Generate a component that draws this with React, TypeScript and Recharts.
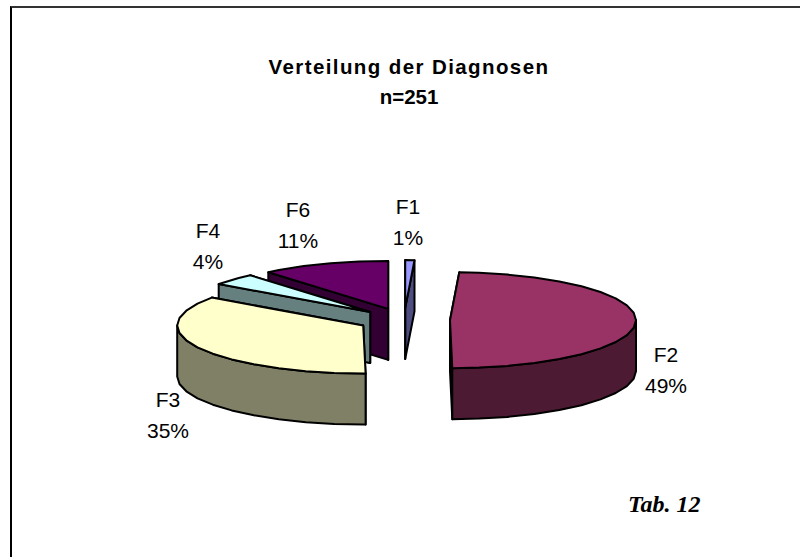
import React from 'react';
import { PieChart, Pie } from 'recharts';

const names = ['F6', 'F4', 'F3', 'F2', 'F1'];
// patient counts out of n=251, listed back to front so the slices overlap correctly
const counts = [28, 10, 88, 123, 2];
const topColors = ['#660066', '#CCFFFF', '#FFFFCC', '#993366', '#9999FF'];
const sideColors = ['#330033', '#668080', '#808066', '#4D1A33', '#4D4D80'];

const chartData = names.map((name, i) => ({ name, value: counts[i] }));

const CX = 404;
const CY = 320;
const RX = 186;
const SQUASH = 48 / 186;
const DEPTH = 51;
const EXPLODE = 46;
const ARC_STEP = 9; // the original outline is a coarse polygon

// baseline of the name line in each label
const labelPos: Record<string, [number, number]> = {
  F1: [408, 214],
  F2: [666, 362],
  F3: [168, 407],
  F4: [208, 238],
  F6: [298, 217],
};

const rad = (deg: number) => (deg * Math.PI) / 180;
const toPath = (pts: number[][]) =>
  'M' + pts.map((p) => `${p[0].toFixed(1)},${p[1].toFixed(1)}`).join('L') + 'Z';

const arcAngles = (lo: number, hi: number) => {
  const out = [lo];
  let a = (Math.floor(lo / ARC_STEP) + 1) * ARC_STEP;
  while (a < hi) {
    out.push(a);
    a += ARC_STEP;
  }
  out.push(hi);
  return out;
};

// draws one pie sector as a tilted, extruded wedge from the angles recharts computed
const Slice3D = (props: any) => {
  const { cx, cy, outerRadius, startAngle, endAngle, midAngle, index } = props;
  const ox = cx + EXPLODE * Math.cos(rad(midAngle));
  const oy = cy - EXPLODE * SQUASH * Math.sin(rad(midAngle));
  const point = (a: number, drop = 0) => [
    ox + outerRadius * Math.cos(rad(a)),
    oy - outerRadius * SQUASH * Math.sin(rad(a)) + drop,
  ];

  const center = [ox, oy];
  const centerLow = [ox, oy + DEPTH];
  const topFace = [center, ...arcAngles(startAngle, endAngle).map((a) => point(a))];
  const faceA = [center, point(startAngle), point(startAngle, DEPTH), centerLow];
  const faceB = [center, point(endAngle), point(endAngle, DEPTH), centerLow];
  const side = sideColors[index];

  // only the part of the rim on the viewer's side gets a wall
  const lo = Math.max(startAngle, 180);
  const hi = Math.min(endAngle, 360);
  const rim = lo < hi ? arcAngles(lo, hi) : [];
  const outer = [
    ...rim.map((a) => point(a)),
    ...rim.slice().reverse().map((a) => point(a, DEPTH)),
  ];

  return (
    <g stroke="#000" strokeWidth={2} strokeLinejoin="round">
      <path d={toPath(faceA)} fill={side} />
      <path d={toPath(faceB)} fill={side} />
      {rim.length > 0 && <path d={toPath(outer)} fill={side} />}
      <path d={toPath(topFace)} fill={topColors[index]} />
    </g>
  );
};

const renderLabel = (props: any) => {
  const { name, percent } = props;
  const [x, y] = labelPos[name];
  return (
    <text x={x} y={y} textAnchor="middle" fontFamily="Liberation Sans" fontSize={21} fill="#000">
      <tspan x={x} dy={0}>{name}</tspan>
      <tspan x={x} dy={30.5}>{Math.round(percent * 100)}%</tspan>
    </text>
  );
};

export default function App() {
  return (
    <div style={{ position: 'absolute', left: 0, top: 0, width: 800, height: 557, background: '#fff' }}>
      <div style={{ position: 'absolute', left: 10, top: 6, width: 790, height: 551, borderLeft: '2px solid #000', borderTop: '2px solid #333', boxSizing: 'border-box' }} />
      <PieChart width={800} height={557} margin={{ top: 0, right: 0, bottom: 0, left: 0 }} style={{ position: 'absolute', left: 0, top: 0 }}>
        <Pie
          data={chartData}
          dataKey="value"
          nameKey="name"
          cx={CX}
          cy={CY}
          innerRadius={0}
          outerRadius={RX}
          startAngle={90}
          endAngle={450}
          paddingAngle={0}
          label={renderLabel}
          labelLine={false}
          shape={Slice3D}
          isAnimationActive={false}
        />
        <text x={409} y={74} textAnchor="middle" fontFamily="Liberation Sans" fontWeight="bold" fontSize={20.5} letterSpacing={1.4} fill="#000">
          Verteilung der Diagnosen
        </text>
        <text x={409} y={104} textAnchor="middle" fontFamily="Liberation Sans" fontWeight="bold" fontSize={20.5} fill="#000">
          n=251
        </text>
        <text x={628} y={512} fontFamily="Liberation Serif" fontWeight="bold" fontStyle="italic" fontSize={24} fill="#000">
          Tab. 12
        </text>
      </PieChart>
    </div>
  );
}
